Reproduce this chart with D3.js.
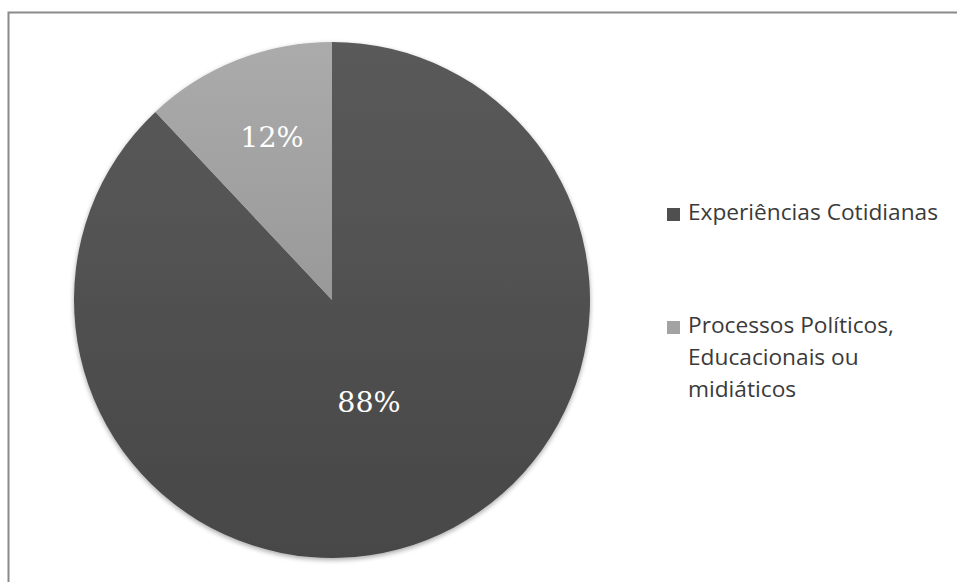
<!DOCTYPE html>
<html><head><meta charset="utf-8">
<script src="https://cdn.jsdelivr.net/npm/d3@7"></script>
<style>html,body{margin:0;padding:0;background:#fff;overflow:hidden}</style>
</head><body>
<svg id="c" width="957" height="582"></svg>
<script>
const categories = ["Experiências Cotidianas", "Processos Políticos, Educacionais ou midiáticos"];
const legendLines = [["Experiências Cotidianas"], ["Processos Políticos,", "Educacionais ou", "midiáticos"]];
const values = [88, 12];
const valueLabels = ["88%", "12%"];

const svg = d3.select("#c");
const defs = svg.append("defs");
const g1 = defs.append("linearGradient").attr("id","gDark").attr("x1",0).attr("y1",0).attr("x2",0).attr("y2",1);
g1.append("stop").attr("offset","0%").attr("stop-color","#5a5a5a");
g1.append("stop").attr("offset","100%").attr("stop-color","#474747");
const g2 = defs.append("linearGradient").attr("id","gLight").attr("x1",0).attr("y1",0).attr("x2",0).attr("y2",1);
g2.append("stop").attr("offset","0%").attr("stop-color","#ababab");
g2.append("stop").attr("offset","100%").attr("stop-color","#999999");
const f = defs.append("filter").attr("id","sh").attr("x","-10%").attr("y","-10%").attr("width","120%").attr("height","120%");
f.append("feGaussianBlur").attr("in","SourceAlpha").attr("stdDeviation",2.5).attr("result","b");
f.append("feOffset").attr("in","b").attr("dx",0).attr("dy",2).attr("result","o");
f.append("feComponentTransfer").attr("in","o").attr("result","o2").append("feFuncA").attr("type","linear").attr("slope",0.35);
const fm = f.append("feMerge"); fm.append("feMergeNode").attr("in","o2"); fm.append("feMergeNode").attr("in","SourceGraphic");

// frame
svg.append("rect").attr("x",8.5).attr("y",12.5).attr("width",1000).attr("height",700)
  .attr("fill","none").attr("stroke","#8a8a8a").attr("stroke-width",2);

const cx = 332, cy = 300, R = 258;
const color = d3.scaleOrdinal().domain(categories).range(["url(#gDark)","url(#gLight)"]);
const legendColor = d3.scaleOrdinal().domain(categories).range(["#4f4f4f","#a3a3a3"]);
const pie = d3.pie().sort(null).value(d=>d);
const arcs = pie(values);
const arc = d3.arc().innerRadius(0).outerRadius(R);
const gp = svg.append("g").attr("transform",`translate(${cx},${cy})`);
gp.append("g").attr("filter","url(#sh)").selectAll("path").data(arcs).join("path")
  .attr("d",arc).attr("fill",(d,i)=>color(categories[i]));

const labelPos = [[37, 112], [-60, -153]];
gp.selectAll("text.v").data(arcs).join("text").attr("class","v")
  .attr("x",(d,i)=>labelPos[i][0]).attr("y",(d,i)=>labelPos[i][1])
  .attr("text-anchor","middle").attr("fill","#fff")
  .attr("font-family","'DejaVu Serif','Liberation Serif',serif")
  .attr("font-size",28.5).text((d,i)=>valueLabels[i]);

// legend
const lg = svg.append("g");
const entryY = [220, 333];
let fs = 21;
categories.forEach((c,i)=>{
  lg.append("rect").attr("x",667).attr("y",entryY[i]-12).attr("width",13).attr("height",13)
    .attr("fill",legendColor(c));
  legendLines[i].forEach((t,j)=>{
    lg.append("text").attr("class","lt").attr("x",688).attr("y",entryY[i]+j*32)
      .attr("font-family","'Open Sans',sans-serif").attr("font-size",fs)
      .attr("fill","#3a3a3a").text(t);
  });
});
// fit first legend line width to ~252px
const first = lg.select("text.lt").node();
const w = first.getComputedTextLength();
if (w > 0) { const nfs = fs * 250 / w; lg.selectAll("text.lt").attr("font-size", Math.min(nfs, 23)); }
</script>
</body></html>
